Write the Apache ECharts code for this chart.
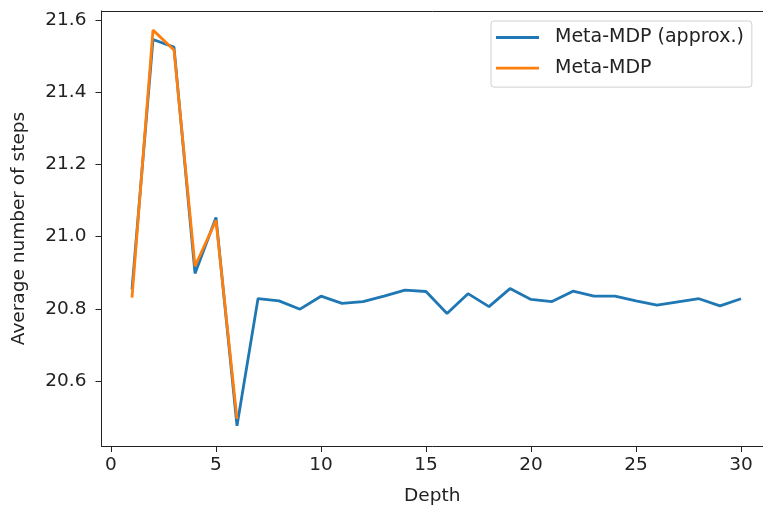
<!DOCTYPE html>
<html>
<head>
<meta charset="utf-8">
<script src="https://cdn.jsdelivr.net/npm/echarts@6/dist/echarts.min.js"></script>
<style>
html,body{margin:0;padding:0;background:#fff;}
#chart{width:763px;height:511px;}
</style>
</head>
<body>
<div id="chart"></div>
<script>
var depthApprox = [1,2,3,4,5,6,7,8,9,10,11,12,13,14,15,16,17,18,19,20,21,22,23,24,25,26,27,28,29,30];
var stepsApprox = [20.854,21.546,21.525,20.898,21.053,20.476,20.828,20.822,20.799,20.835,20.815,20.82,20.835,20.852,20.848,20.787,20.842,20.806,20.856,20.826,20.82,20.849,20.835,20.835,20.822,20.81,20.819,20.828,20.808,20.828];
var depthExact = [1,2,3,4,5,6];
var stepsExact = [20.831,21.572,21.517,20.918,21.045,20.495];
var xTicks = [0,5,10,15,20,25,30];
var yTicks = [20.6,20.8,21.0,21.2,21.4,21.6];
var seriesNames = ['Meta-MDP (approx.)','Meta-MDP'];

function pairs(xs, ys){ return xs.map(function(x,i){ return [x, ys[i]]; }); }

var font = 'DejaVu Sans';
var fs = 18.5;
var ink = '#222';
var chart = echarts.init(document.getElementById('chart'), null, {renderer:'canvas'});
chart.setOption({
  animation:false,
  backgroundColor:'#fff',
  grid:{left:101.5, top:11, right:0, height:436, show:false},
  legend:{
    orient:'vertical', left:491, top:21,
    data:seriesNames,
    icon:'rect',
    backgroundColor:'#fff', borderColor:'#d0d0d0', borderWidth:1, borderRadius:3,
    padding:[7,8,9.5,5],
    itemWidth:43, itemHeight:2.8, itemGap:11.6,
    textStyle:{fontFamily:font, fontSize:19, lineHeight:19, color:ink, padding:[0,0,0,11]}
  },
  xAxis:[{
    type:'value', min:-0.452, max:31.048, position:'bottom',
    name:'Depth', nameLocation:'middle', nameGap:41,
    nameTextStyle:{fontFamily:font, fontSize:fs, color:ink},
    axisLine:{show:true, onZero:false, lineStyle:{color:ink, width:1}},
    axisTick:{show:true, customValues:xTicks, length:6, lineStyle:{color:ink}},
    axisLabel:{customValues:xTicks, fontFamily:font, fontSize:fs, color:ink, margin:10,
      formatter:function(v){return String(Math.round(v));}},
    splitLine:{show:false}
  },{
    type:'value', min:-0.452, max:31.048, position:'top',
    axisLine:{show:true, onZero:false, lineStyle:{color:ink, width:1}},
    axisTick:{show:false}, axisLabel:{show:false}, splitLine:{show:false}
  }],
  yAxis:{
    type:'value', min:20.42, max:21.625,
    name:'Average number of steps', nameLocation:'middle', nameGap:73, nameRotate:90,
    nameTextStyle:{fontFamily:font, fontSize:fs, color:ink},
    axisLine:{show:true, onZero:false, lineStyle:{color:ink, width:1}},
    axisTick:{show:true, customValues:yTicks, length:6, lineStyle:{color:ink}},
    axisLabel:{customValues:yTicks, fontFamily:font, fontSize:fs, color:ink, margin:15,
      formatter:function(v){return v.toFixed(1);}},
    splitLine:{show:false}
  },
  series:[
    {name:seriesNames[0], type:'line', data:pairs(depthApprox, stepsApprox), showSymbol:false, symbol:'none',
     lineStyle:{color:'#1f77b4', width:2.8}, itemStyle:{color:'#1f77b4'}, z:2},
    {name:seriesNames[1], type:'line', data:pairs(depthExact, stepsExact), showSymbol:false, symbol:'none',
     lineStyle:{color:'#ff7f0e', width:2.8}, itemStyle:{color:'#ff7f0e'}, z:3}
  ]
});
</script>
</body>
</html>
